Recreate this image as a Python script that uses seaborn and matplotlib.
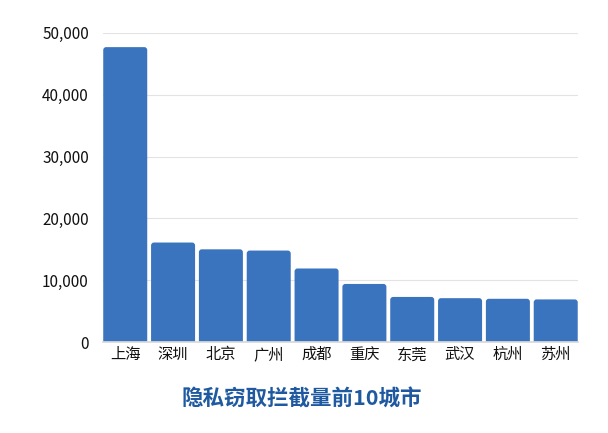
import pandas as pd
import matplotlib
matplotlib.use("Agg")
import matplotlib.pyplot as plt
import seaborn as sns
from matplotlib.patches import FancyBboxPatch
from matplotlib.ticker import FuncFormatter

cities = ["上海", "深圳", "北京", "广州", "成都", "重庆", "东莞", "武汉", "杭州", "苏州"]
counts = [47700, 16100, 15000, 14800, 11900, 9400, 7300, 7100, 7000, 6900]
y_ticks = [0, 10000, 20000, 30000, 40000, 50000]
title = "隐私窃取拦截量前10城市"

sns.set_theme(style="white")
plt.rcParams["font.family"] = ["Noto Sans CJK SC", "DejaVu Sans"]

df = pd.DataFrame({"city": cities, "count": counts})

fig = plt.figure(figsize=(6.08, 4.33), dpi=100)
ax = fig.add_axes([0.169, 0.210, 0.782, 0.714])

sns.barplot(data=df, x="city", y="count", color="#3b74be", saturation=1,
            width=0.92, ax=ax, zorder=3)

# rounded tops: swap each bar for a rounded box with the same geometry
for bar in list(ax.patches):
    x, w, h = bar.get_x(), bar.get_width(), bar.get_height()
    rb = FancyBboxPatch((x, -2000), w, h + 2000,
                        boxstyle="round,pad=0,rounding_size=0.06",
                        mutation_aspect=8000, facecolor=bar.get_facecolor(),
                        edgecolor="none", zorder=3)
    bar.remove()
    ax.add_patch(rb)

ax.set_ylim(0, 50000)
ax.set_xlim(-0.47, 9.47)
ax.set_yticks(y_ticks)
ax.yaxis.set_major_formatter(FuncFormatter(lambda v, p: f"{int(v):,}"))
ax.grid(axis="y", color="#e3e3e3", linewidth=0.8, zorder=0)
for s in ["top", "right", "left"]:
    ax.spines[s].set_visible(False)
ax.spines["bottom"].set_color("#d9d9d9")
ax.spines["bottom"].set_zorder(4)
ax.tick_params(axis="both", length=0, labelsize=11, colors="#111111")
ax.tick_params(axis="y", pad=10)
ax.tick_params(axis="x", pad=3)
ax.set_xlabel("")
ax.set_ylabel("")

fig.text(0.497, 0.078, title, ha="center", va="center", fontsize=15.5,
         fontweight="bold", color="#1f5aa0")

fig.savefig("out.png", dpi=100)
